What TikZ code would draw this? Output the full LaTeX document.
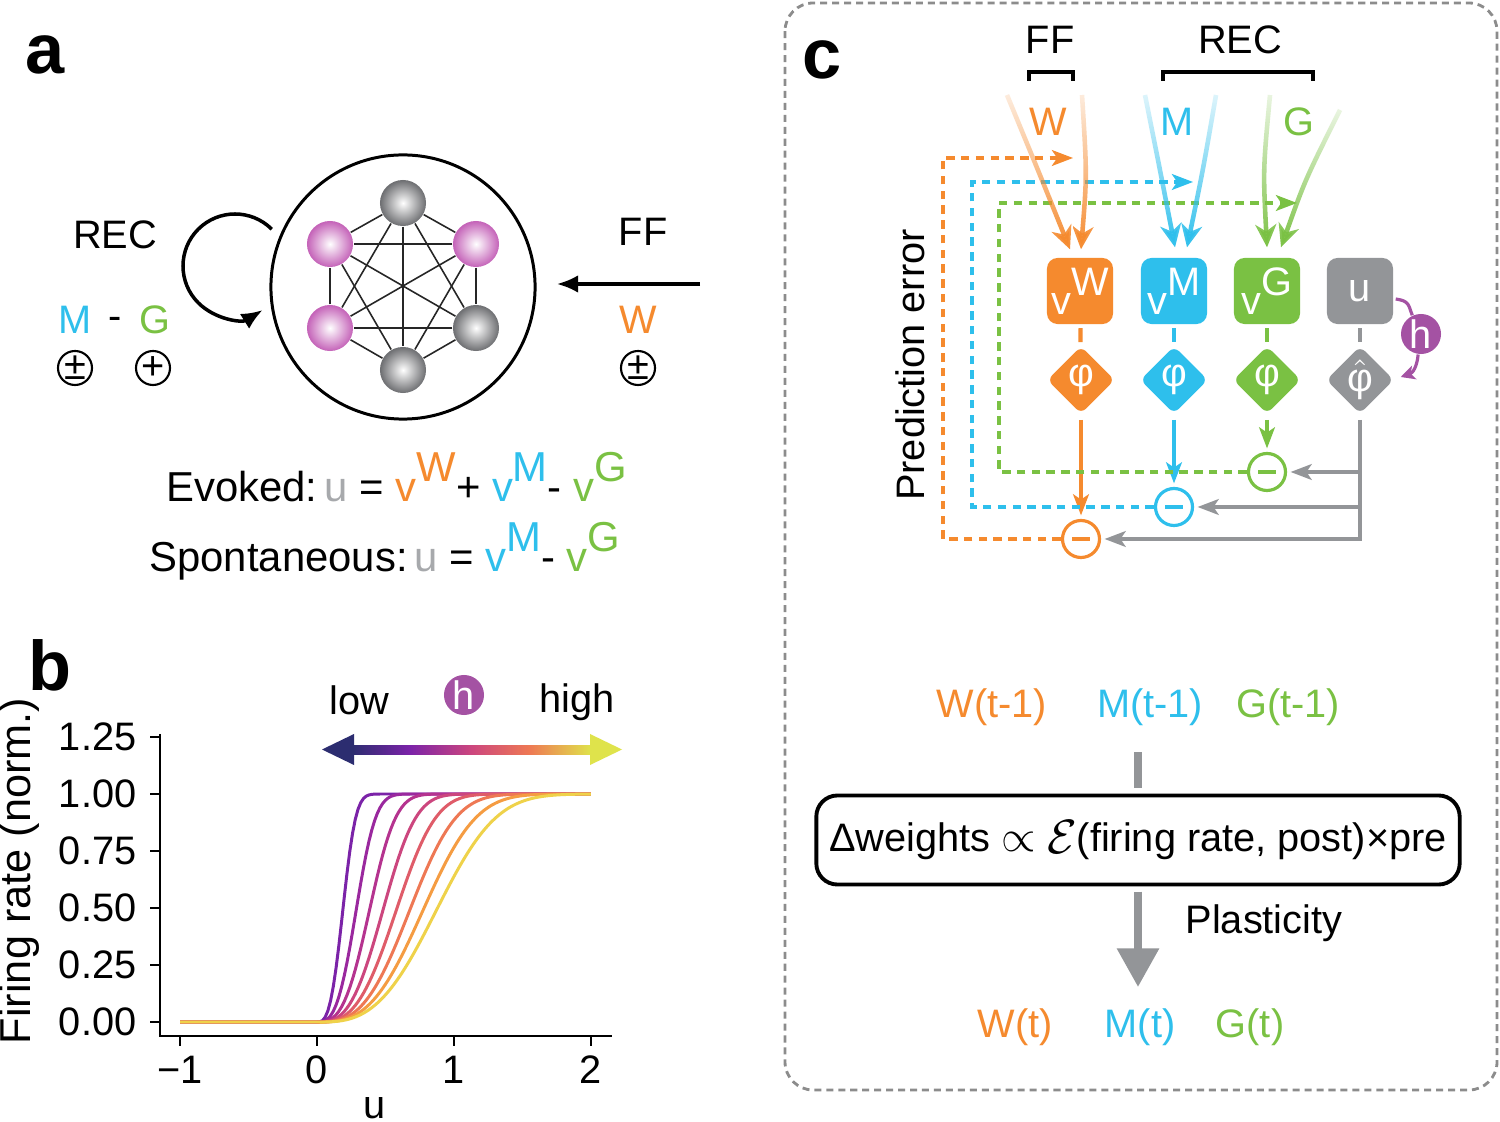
\documentclass[tikz,border=0pt]{standalone}
\usepackage{fontspec}
\setmainfont{Liberation Sans}
\usetikzlibrary{arrows.meta, positioning, shapes.geometric, calc, fadings}

\definecolor{wOrange}{HTML}{F58A2E}
\definecolor{mCyan}{HTML}{2EBFEC}
\definecolor{gGreen}{HTML}{7AC143}
\definecolor{uGray}{HTML}{939598}
\definecolor{uLight}{HTML}{A7A9AC}
\definecolor{hPurple}{HTML}{A452A3}
\definecolor{sphPink}{HTML}{C462B8}
\definecolor{sphGray}{HTML}{6D6E71}
\definecolor{frameGray}{HTML}{8C8C8C}
% curve colours, dark to light
\definecolor{pc1}{HTML}{7B23A8}
\definecolor{pc2}{HTML}{9A289E}
\definecolor{pc3}{HTML}{B5338F}
\definecolor{pc4}{HTML}{CC467E}
\definecolor{pc5}{HTML}{DF5C69}
\definecolor{pc6}{HTML}{EE7854}
\definecolor{pc7}{HTML}{F59C42}
\definecolor{pc8}{HTML}{EFD24A}
\definecolor{barNavy}{HTML}{2C2D70}
\definecolor{barYellow}{HTML}{DFE34B}

\pgfdeclarehorizontalshading{plasmabar}{100bp}{color(0bp)=(barNavy); color(25bp)=(barNavy); color(37bp)=(pc1); color(50bp)=(pc4); color(62bp)=(pc6); color(75bp)=(barYellow); color(100bp)=(barYellow)}
\tikzfading[name=fadein, top color=transparent!85, bottom color=transparent!0]

\newcommand{\vsup}[2]{\textcolor{#1}{v\raisebox{0.48em}{#2}}}

\begin{document}
\begin{tikzpicture}[x=0.01cm, y=-0.01cm,
  font=\fontsize{11.3}{13.5}\selectfont,
  panel/.style={font=\fontsize{20}{24}\selectfont\bfseries},
  eqn/.style={anchor=base west, font=\fontsize{11.9}{14}\selectfont},
  sphere/.style={circle, minimum size=0.46cm, inner sep=0pt, shading=radial, inner color=white, outer color=#1},
  netedge/.style={line width=0.45pt, black!85},
  signcirc/.style={circle, draw, line width=0.6pt, minimum size=0.34cm, inner sep=0pt},
  vbox/.style={rounded corners=3pt, minimum size=0.66cm, inner sep=0pt, text=white, fill=#1},
  phibox/.style={diamond, aspect=1, rounded corners=2pt, minimum size=0.68cm, inner sep=0pt, text=white, fill=#1},
  minuscirc/.style={circle, draw=#1, line width=0.9pt, fill=white, minimum size=0.37cm, inner sep=0pt,
    path picture={\draw[#1, line width=1.1pt] ([xshift=-0.09cm]path picture bounding box.center) -- ([xshift=0.09cm]path picture bounding box.center);}},
  stub/.style={line width=1.2pt, shorten <=1pt, shorten >=1pt},
  downarrow/.style={line width=0.9pt, -{Stealth[length=6pt, width=4.5pt, inset=1.5pt]}, shorten <=1.5pt, shorten >=1pt},
  grayarrow/.style={uGray, line width=0.9pt, -{Stealth[length=6pt, width=4.5pt, inset=1.5pt]}, shorten >=1pt},
  fb/.style={line width=0.9pt, dash pattern=on 2.4pt off 1.8pt, -{Stealth[length=6pt, width=4.5pt, inset=1.5pt]}},
  inarrow/.style={line width=1.3pt, path fading=fadein, -{Stealth[length=6.5pt, width=6pt, inset=2pt]}},
  harc/.style={hPurple, line width=0.9pt},
  hdot/.style={circle, fill=hPurple, text=white, minimum size=0.4cm, inner sep=0pt}]

\useasboundingbox (0,0) rectangle (1500,1122);
\fill[white] (0,0) rectangle (1500,1122);

% ---- panel a ----
\node[panel] (la) at (45,55) {a};
\node (recA) at (115,235) {REC};
\node[text=mCyan] (mA) at (75,320) {M};
\node (dashA) at (115,323) {-};
\node[text=gGreen] (gA) at (155,320) {G};
\node[signcirc] (pmM) at (75,368) {±};
\node[signcirc] (pG) at (153,368) {+};

\node[circle, draw, line width=0.85pt, minimum size=2.64cm] (net) at (403,287) {};
\node[sphere=sphGray] (n1) at (403,203) {};
\node[sphere=sphPink] (n2) at (476,244) {};
\node[sphere=sphGray] (n3) at (476,328) {};
\node[sphere=sphGray] (n4) at (403,370) {};
\node[sphere=sphPink] (n5) at (330,328) {};
\node[sphere=sphPink] (n6) at (330,244) {};
\foreach \i/\k in {1/2,2/3,3/4,4/5,5/6}
  \foreach \j in {\k,...,6}
    \draw[netedge] (n\i) -- (n\j);

\coordinate (loopC) at (235,266);
\draw[line width=1pt, -{Latex[length=6pt, width=5pt]}] (loopC) ++(-45:52) arc[start angle=-45, end angle=-302, radius=52];

\node (ffA) at (643,232) {FF};
\coordinate (ffTail) at (700,284);
\coordinate (ffHead) at (557,284);
\draw[line width=0.9pt, -{Latex[length=6pt, width=5pt]}] (ffTail) -- (ffHead);
\node[text=wOrange] (wA) at (638,320) {W};
\node[signcirc] (pmW) at (638,368) {±};

\node[eqn] (evoked) at (154,502) {Evoked:\,\textcolor{uLight}{u} = \vsup{wOrange}{W}+ \vsup{mCyan}{M}- \vsup{gGreen}{G}};
\node[eqn] (spont) at (137,572) {Spontaneous:\,\textcolor{uLight}{u} = \vsup{mCyan}{M}- \vsup{gGreen}{G}};

% ---- panel b ----
\node[panel] (lb) at (50,665) {b};
\draw[line width=0.8pt] (160,734) -- (160,1036) -- (612,1036);
\foreach \yv/\lab in {0/0.00, 0.25/0.25, 0.5/0.50, 0.75/0.75, 1/1.00, 1.25/1.25}
  \draw[line width=0.8pt] (160,{1022-228*\yv}) -- (150,{1022-228*\yv}) node[left, inner sep=3.5pt] {\lab};
\foreach \xv/\lab in {-1/−1, 0/0, 1/1, 2/2}
  \draw[line width=0.8pt] ({317+137*\xv},1036) -- ({317+137*\xv},1046) node[below, inner sep=2.5pt] {\lab};
\node (xlab) at (375,1108) {u};
\node[rotate=90, font=\fontsize{12.3}{14}\selectfont] (ylab) at (19,871) {Firing rate (norm.)};

\foreach \a/\cl in {0.215/pc1, 0.326/pc2, 0.437/pc3, 0.549/pc4, 0.660/pc5, 0.772/pc6, 0.883/pc7, 0.994/pc8}
  \draw[\cl, line width=0.85pt] plot[domain=-1:2, samples=151]
    ({317+137*\x}, {1022-228*(1-exp(-min(12, (max(\x,0)/\a)*(max(\x,0)/\a)*(max(\x,0)/\a))))});

\node (low) at (359,700) {low};
\node[hdot] (hB) at (464,695) {h};
\node (high) at (577,702) {high};
\shade[shading=plasmabar] (352,745) rectangle (591,754);
\fill[barNavy] (322,749.5) -- (354,734) -- (354,765) -- cycle;
\fill[barYellow] (622,749.5) -- (590,734) -- (590,765) -- cycle;

% ---- panel c ----
\draw[frameGray, line width=0.8pt, dash pattern=on 2pt off 1.4pt, rounded corners=8pt] (785,3) rectangle (1497,1090);
\node[panel] (lc) at (822,60) {c};
\node (ffC) at (1050,40) {FF};
\node (recC) at (1240,40) {REC};
\draw[line width=1pt] (1029,81) -- (1029,72) -- (1073,72) -- (1073,81);
\draw[line width=1pt] (1163,81) -- (1163,72) -- (1313,72) -- (1313,81);
\node[text=wOrange] (wIn) at (1048,122) {W};
\node[text=mCyan] (mIn) at (1177,122) {M};
\node[text=gGreen] (gIn) at (1299,122) {G};
\node[rotate=90] (predErr) at (910,365) {Prediction error};

\node[vbox=wOrange] (bW) at (1080,291) {\vsup{white}{W}};
\node[vbox=mCyan] (bM) at (1174,291) {\vsup{white}{M}};
\node[vbox=gGreen] (bG) at (1267,291) {\vsup{white}{G}};
\node[vbox=uGray] (bU) at (1360,291) {u};
\node[phibox=wOrange] (pW) at (1081,380) {φ};
\node[phibox=mCyan] (pM) at (1174,380) {φ};
\node[phibox=gGreen] (pG) at (1267,380) {φ};
\node[phibox=uGray] (pU) at (1360,380) {$\hat{\hbox{φ}}$};
\node[minuscirc=gGreen] (eG) at (1267,472) {};
\node[minuscirc=mCyan] (eM) at (1174,507) {};
\node[minuscirc=wOrange] (eW) at (1081,539) {};

\foreach \s/\cl in {W/wOrange, M/mCyan, G/gGreen, U/uGray}
  \draw[stub, \cl] (b\s) -- (p\s);
\foreach \s/\cl in {W/wOrange, M/mCyan, G/gGreen}
  \draw[downarrow, \cl] (p\s) -- (e\s);

% error lines from the u branch
\coordinate (tG) at (1360,472);
\coordinate (tM) at (1360,507);
\coordinate (tW) at (1360,539);
\draw[grayarrow, shorten <=1.5pt] (pU) -- (tW) -- (eW);
\draw[grayarrow] (tM) -- (eM);
\draw[grayarrow] (tG) -- (eG);

% prediction error fed back
\coordinate (cnW) at (943,158);
\coordinate (cnM) at (972,182);
\coordinate (cnG) at (999,203);
\coordinate (fbW) at (1073,158);
\coordinate (fbM) at (1193,182);
\coordinate (fbG) at (1297,203);
\draw[fb, wOrange] (eW) -| (cnW) -- (fbW);
\draw[fb, mCyan] (eM) -| (cnM) -- (fbM);
\draw[fb, gGreen] (eG) -| (cnG) -- (fbG);

% inputs
\coordinate (inW1) at (1007,95);
\coordinate (inW2) at (1082,95);
\coordinate (inM1) at (1145,95);
\coordinate (inM2) at (1216,95);
\coordinate (inG1) at (1270,95);
\coordinate (inG2) at (1340,110);
\draw[inarrow, wOrange] (inW1) .. controls (1040,175) .. ($(bW.north)+(-10,-8)$);
\draw[inarrow, wOrange] (inW2) .. controls (1087,175) .. ($(bW.north)+(1,-8)$);
\draw[inarrow, mCyan] (inM1) .. controls (1160,170) .. ($(bM.north)+(1,-10)$);
\draw[inarrow, mCyan] (inM2) .. controls (1203,170) .. ($(bM.north)+(13,-10)$);
\draw[inarrow, gGreen] (inG1) .. controls (1263,170) .. ($(bG.north)+(0,-10)$);
\draw[inarrow, gGreen] (inG2) .. controls (1305,180) .. ($(bG.north)+(14,-10)$);

% gain h
\node[hdot] (hC) at (1421,334) {h};
\draw[harc] ($(bU.east)+(2,8)$) .. controls +(14,2) and +(-4,-10) .. (hC.115);
\draw[harc, -{Stealth[length=4pt, width=4pt, inset=1pt]}] (hC.262) .. controls +(-1,12) and +(12,-4) .. ($(pU.east)+(6,-3)$);

% plasticity
\node[text=wOrange] (wPrev) at (992,707) {W(t-1)};
\node[text=mCyan] (mPrev) at (1150,707) {M(t-1)};
\node[text=gGreen] (gPrev) at (1288,707) {G(t-1)};
\node[draw, line width=1.1pt, rounded corners=6pt, minimum width=6.43cm, minimum height=0.89cm] (rule) at (1138,840)
  {Δweights \scalebox{1.15}{$\propto$} \raisebox{-0.05em}{\scalebox{1.25}{$\mathcal{E}$}}(firing rate, post)×pre};
\coordinate (stubTop) at (1138,752);
\coordinate (plastTip) at (1138,987);
\draw[uGray, line width=2.3pt, shorten >=1.5pt] (stubTop) -- (rule);
\draw[uGray, line width=2.3pt, shorten <=1.5pt, -{Triangle[length=11pt, width=11.5pt]}] (rule) -- (plastTip);
\node (plast) at (1264,923) {Plasticity};
\node[text=wOrange] (wNow) at (1015,1027) {W(t)};
\node[text=mCyan] (mNow) at (1140,1027) {M(t)};
\node[text=gGreen] (gNow) at (1250,1027) {G(t)};
\end{tikzpicture}
\end{document}
